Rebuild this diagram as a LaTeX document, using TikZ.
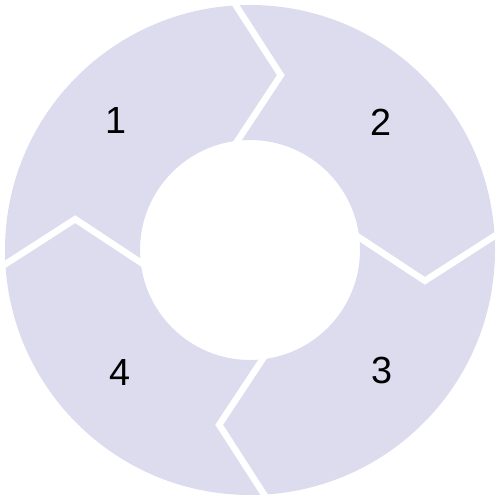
\documentclass[tikz,border=0pt]{standalone}
\usepackage{fontspec}
\setmainfont{Liberation Sans}
\usepackage{tikz}
\usetikzlibrary{calc}
\definecolor{ringfill}{RGB}{220,220,238}

\begin{document}
\begin{tikzpicture}[
    cut/.style={draw=white, line width=3.7pt, line join=miter},
    num/.style={font=\fontsize{21.5}{24}\selectfont, text=black, inner sep=0pt}
]
    \useasboundingbox (-5,-5) rectangle (5,5);

    % Ring
    \fill[ringfill, even odd rule] (0,0) circle (4.9) (0,0) circle (2.2);

    % Cuts
    \draw[cut] ($(80:3.55)!1.15!(93.3:4.9)$) -- (80:3.55) -- ($(80:3.55)!1.15!(96.5:2.2)$);
    \draw[cut] ($(-10:3.55)!1.15!(3.3:4.9)$) -- (-10:3.55) -- ($(-10:3.55)!1.15!(6.5:2.2)$);
    \draw[cut] ($(-100:3.55)!1.15!(-86.7:4.9)$) -- (-100:3.55) -- ($(-100:3.55)!1.15!(-83.5:2.2)$);
    \draw[cut] ($(170:3.55)!1.15!(183.3:4.9)$) -- (170:3.55) -- ($(170:3.55)!1.15!(186.5:2.2)$);

    % Nodes
    \node[num] (one) at (-2.68,2.59) {1};
    \node[num] (two) at (2.62,2.56) {2};
    \node[num] (three) at (2.64,-2.41) {3};
    \node[num] (four) at (-2.60,-2.46) {4};
\end{tikzpicture}
\end{document}
